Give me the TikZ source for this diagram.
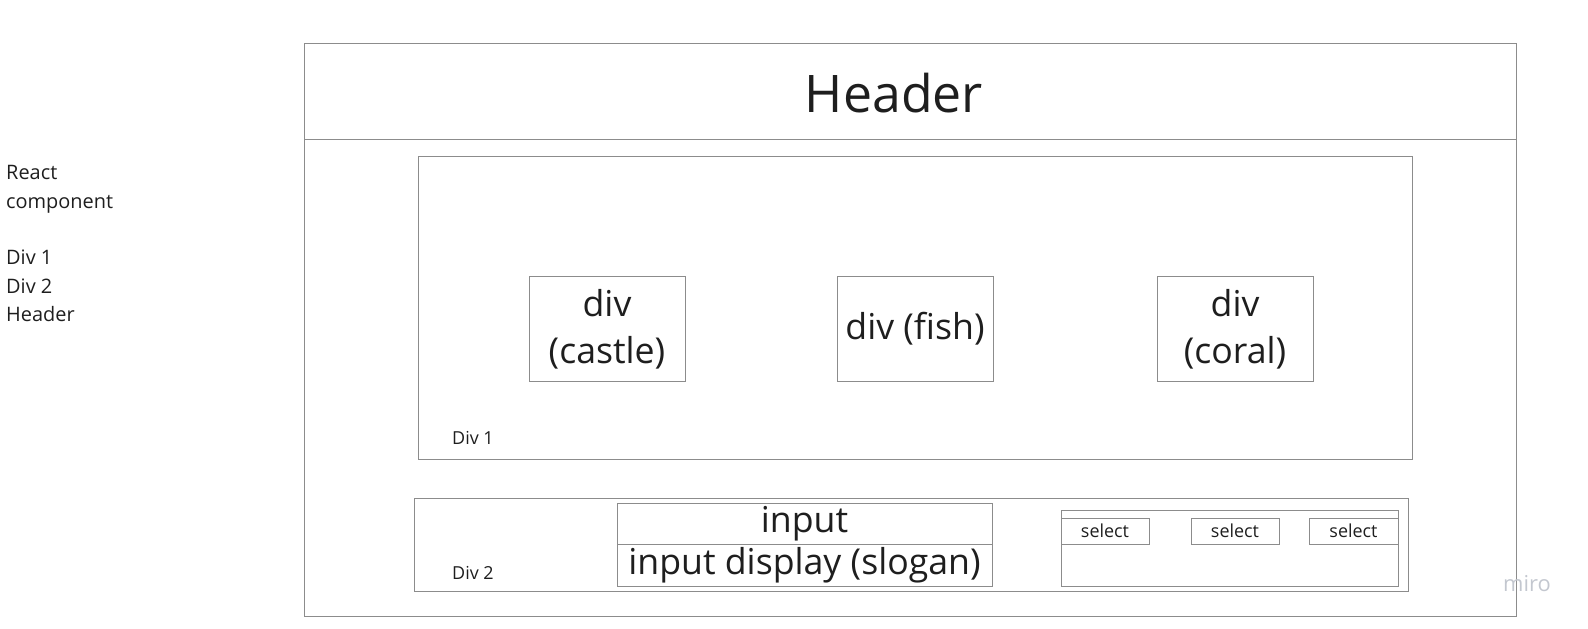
\documentclass[tikz,border=0pt]{standalone}
\usepackage{fontspec}
\setmainfont{Open Sans}
\definecolor{edge}{HTML}{8C8C8C}
\definecolor{ink}{HTML}{1E1E1E}
\definecolor{wm}{HTML}{C3C7CF}
\begin{document}
\begin{tikzpicture}[x=1bp,y=-1bp,
  box/.style={draw=edge,line width=1bp,rectangle,inner sep=0pt,text=ink,align=center},
  big/.style={font=\fontsize{35.8}{47}\selectfont},
  small/.style={font=\fontsize{18}{24}\selectfont,text=ink},
  tag/.style={font=\fontsize{20}{28.4}\selectfont,text=ink,anchor=west,inner sep=0pt}]
\useasboundingbox (0,0) rectangle (1588,629);
% outer page
\node[box,minimum width=1211bp,minimum height=572.5bp] (outer) at (910.5,329.75) {};
\coordinate (hl) at (305,140);
\coordinate (hr) at (1516,140);
\draw[edge,line width=1bp] (hl) -- (hr);
\node[text=ink,font=\fontsize{52}{60}\selectfont,inner sep=0pt] (header) at (894,93) {Header};
% legend
\node[tag,align=left,anchor=north west] (legend) at (6,165.5) {React\\component\\[28.4bp]Div 1\\Div 2\\Header};
% div 1
\node[box,minimum width=994bp,minimum height=302bp] (div1) at (915,308) {};
\node[small,anchor=west,inner sep=0pt] (div1l) at (452,437.5) {Div 1};
\node[box,big,minimum width=156bp,minimum height=105.5bp] (castle) at (607,329) {div\\(castle)};
\node[box,big,minimum width=156bp,minimum height=105.5bp] (fish) at (915,329) {div (fish)};
\node[box,big,minimum width=156bp,minimum height=105.5bp] (coral) at (1235,329) {div\\(coral)};
% div 2
\node[box,minimum width=994bp,minimum height=93.5bp] (div2) at (911,544.75) {};
\node[small,anchor=west,inner sep=0pt] (div2l) at (452,573) {Div 2};
\node[box,big,minimum width=375bp,minimum height=41bp] (input) at (804.5,523.5) {input};
\node[box,big,minimum width=375bp,minimum height=42bp] (display) at (804.5,565) {input display (slogan)};
\node[box,minimum width=337bp,minimum height=76bp] (selbox) at (1229.5,548) {};
\node[box,small,minimum width=88bp,minimum height=26.5bp] (sel1) at (1105,531.25) {select};
\node[box,small,minimum width=88bp,minimum height=26.5bp] (sel2) at (1235,531.25) {select};
\node[box,small,minimum width=89bp,minimum height=26.5bp] (sel3) at (1353.5,531.25) {select};
% watermark
\node[text=wm,font=\fontsize{22}{24}\selectfont,inner sep=0pt] (miro) at (1527,584) {miro};
\end{tikzpicture}
\end{document}
